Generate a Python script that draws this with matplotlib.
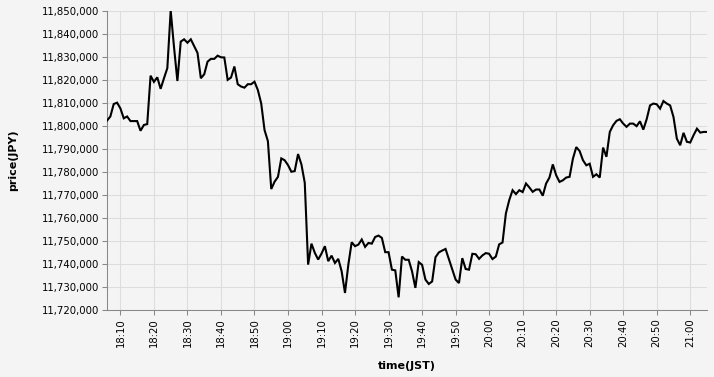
import numpy as np
import pandas as pd
import matplotlib
matplotlib.use('Agg')
import matplotlib.pyplot as plt
import matplotlib.dates as mdates
from matplotlib.ticker import FuncFormatter, MultipleLocator

# Данные: цена каждую минуту, начиная с 18:06 (JST)
start_time = '2024-01-01 18:06'
price = [
    11802200, 11804000, 11809400, 11810000, 11807500, 11803200, 11804000, 11802000, 11802000, 11802000,
    11797800, 11800300, 11800700, 11821700, 11819000, 11821000, 11816000, 11820600, 11825000, 11850000,
    11834000, 11819400, 11836500, 11837500, 11836000, 11837500, 11834500, 11831600, 11820600, 11822300,
    11827800, 11829000, 11829000, 11830400, 11829700, 11829600, 11819900, 11820900, 11825700, 11818000,
    11817000, 11816500, 11818000, 11818000, 11819100, 11815500, 11809700, 11798100, 11793300, 11772500,
    11775700, 11777800, 11785800, 11785000, 11782900, 11780000, 11780300, 11787700, 11783200, 11775200,
    11739700, 11748800, 11744800, 11741900, 11744500, 11747700, 11741200, 11743600, 11740400, 11742200,
    11736800, 11727400, 11739700, 11749400, 11747700, 11748400, 11750600, 11747400, 11749100, 11748800,
    11751700, 11752300, 11751300, 11745100, 11745100, 11737500, 11737200, 11725500, 11743200, 11741800,
    11741800, 11736800, 11729600, 11740800, 11739600, 11733200, 11731300, 11732400, 11742900, 11745000,
    11745800, 11746500, 11742100, 11737800, 11733200, 11731700, 11742500, 11737800, 11737500, 11744400,
    11744200, 11742200, 11743700, 11744700, 11744400, 11742100, 11743200, 11748500, 11749300, 11761900,
    11767700, 11772000, 11770300, 11772000, 11771200, 11774900, 11773200, 11771300, 11772300, 11772300,
    11769600, 11774900, 11777500, 11783200, 11778500, 11775600, 11776300, 11777500, 11777800, 11785700,
    11790700, 11789000, 11785000, 11782800, 11783500, 11777800, 11778900, 11777500, 11790500, 11786500,
    11797300, 11800200, 11802100, 11802800, 11800900, 11799500, 11800900, 11800900, 11799800, 11801900,
    11798300, 11802800, 11808800, 11809600, 11809300, 11807400, 11810700, 11809600, 11808800, 11803800,
    11794400, 11791500, 11796900, 11793000, 11792700, 11795900, 11798700, 11797000, 11797300, 11797300,
]
times = pd.date_range(start_time, periods=len(price), freq='1min')

bg = '#f4f4f4'
plt.rcParams['font.family'] = ['DejaVu Sans']

fig = plt.figure(figsize=(7.14, 3.77), dpi=100)
fig.patch.set_facecolor(bg)
ax = fig.add_axes([107 / 714, (377 - 310) / 377, 600 / 714, 299.5 / 377])
ax.set_facecolor(bg)

ax.plot(times, price, color='black', linewidth=1.5, solid_joinstyle='miter', zorder=3)

ax.set_xlim(times[0], times[-1])
ax.set_ylim(11720000, 11850000)

# Оси
ax.yaxis.set_major_locator(MultipleLocator(10000))
ax.yaxis.set_major_formatter(FuncFormatter(lambda v, p: f'{int(round(v)):,}'))
ax.xaxis.set_major_locator(mdates.MinuteLocator(byminute=range(0, 60, 10)))
ax.xaxis.set_major_formatter(mdates.DateFormatter('%H:%M'))

ax.grid(True, color='#dddddd', linewidth=0.75, zorder=0)
ax.set_axisbelow(True)
for s in ['top', 'right']:
    ax.spines[s].set_visible(False)
for s in ['left', 'bottom']:
    ax.spines[s].set_color('#888888')
    ax.spines[s].set_linewidth(0.75)

ax.tick_params(axis='both', colors='#888888', length=3.6, width=0.75, labelsize=7.3, labelcolor='black', pad=2)
plt.setp(ax.get_xticklabels(), rotation=90)

ax.set_xlabel('time(JST)', fontsize=8, fontweight='bold', labelpad=10)
ax.set_ylabel('price(JPY)', fontsize=8, fontweight='bold', labelpad=17)

fig.savefig('out.png', dpi=100, facecolor=bg)
